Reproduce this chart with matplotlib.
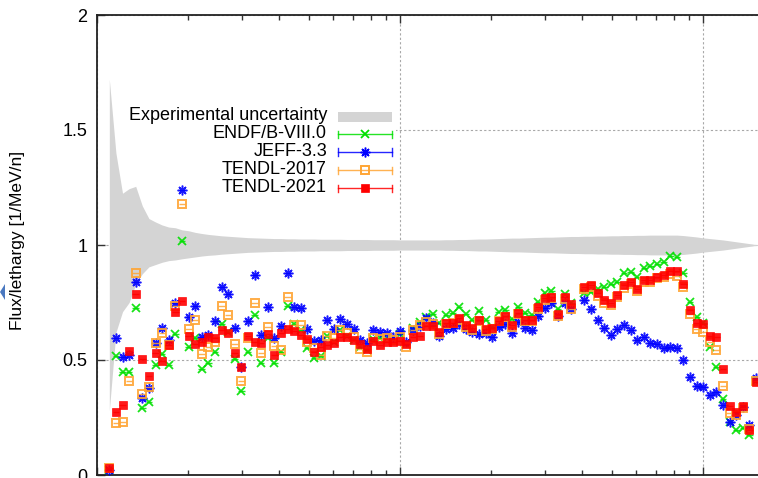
import numpy as np
import matplotlib
matplotlib.use("Agg")
import matplotlib.pyplot as plt
from matplotlib.lines import Line2D
from matplotlib.patches import Rectangle, Polygon

# energy group structure (equal lethargy), MeV
e_min, e_max, n_groups = 0.1071, 16.14, 100

# flux per lethargy for each library (nan = no point)
endf8 = [
    0.020, 0.517, 0.447, 0.447, 0.727, 0.293, 0.316, 0.478, 0.525, 0.478,
    0.613, 1.019, 0.558, 0.594, 0.461, 0.488, 0.533, 0.657, 0.623, 0.503,
    0.365, 0.536, 0.696, 0.488, 0.594, 0.486, 0.536, 0.735, 0.657, 0.630,
    0.551, 0.507, 0.517, 0.604, 0.580, 0.630, 0.605, 0.587, 0.555, 0.545,
    0.590, 0.595, 0.595, 0.595, 0.615, 0.570, 0.638, 0.667, 0.688, 0.700,
    0.660, 0.696, 0.703, 0.729, 0.700, 0.674, 0.714, 0.674, 0.643, 0.710,
    0.717, 0.677, 0.732, 0.706, 0.696, 0.753, 0.790, 0.801, 0.720, 0.785,
    0.750, np.nan, 0.790, 0.797, 0.810, 0.819, 0.830, 0.840, 0.877, 0.884,
    0.860, 0.899, 0.909, 0.917, 0.927, 0.952, 0.949, 0.877, 0.753, 0.686,
    0.660, 0.555, 0.471, 0.329, 0.232, 0.196, 0.203, 0.174, 0.410, 1.560,
]
jeff33 = [
    0.020, 0.597, 0.514, 0.522, 0.840, 0.336, 0.377, 0.575, 0.638, 0.587,
    0.747, 1.239, 0.688, 0.735, 0.600, 0.609, 0.670, 0.816, 0.786, 0.638,
    0.471, 0.670, 0.870, 0.609, 0.732, 0.594, 0.648, 0.880, 0.729, 0.725,
    0.635, 0.584, 0.587, 0.674, 0.635, 0.678, 0.657, 0.635, 0.587, 0.575,
    0.630, 0.623, 0.619, 0.599, 0.627, 0.580, 0.630, 0.648, 0.681, 0.660,
    0.604, 0.635, 0.640, 0.655, 0.635, 0.623, 0.615, 0.616, 0.601, 0.645,
    0.657, 0.616, 0.667, 0.638, 0.630, 0.691, 0.725, 0.749, 0.690, 0.750,
    0.720, np.nan, 0.761, 0.722, 0.674, 0.638, 0.609, 0.633, 0.652, 0.630,
    0.587, 0.601, 0.575, 0.570, 0.551, 0.555, 0.551, 0.500, 0.427, 0.388,
    0.384, 0.348, 0.362, 0.304, 0.232, 0.261, 0.297, 0.217, 0.420, 1.580,
]
tendl17 = [
    0.030, 0.225, 0.230, 0.409, 0.880, 0.352, 0.384, 0.573, 0.619, 0.565,
    0.735, 1.177, 0.633, 0.674, 0.525, 0.558, 0.580, 0.735, 0.696, 0.568,
    0.409, 0.594, 0.749, 0.532, 0.645, 0.561, 0.543, 0.775, 0.652, 0.652,
    0.580, 0.551, 0.522, 0.604, 0.594, 0.630, 0.616, 0.599, 0.548, 0.536,
    0.594, 0.590, 0.594, 0.587, 0.599, 0.558, 0.630, 0.652, 0.667, 0.655,
    0.615, 0.655, 0.660, 0.675, 0.645, 0.630, 0.668, 0.628, 0.635, 0.668,
    0.685, 0.645, 0.698, 0.668, 0.668, 0.720, 0.760, 0.768, 0.690, 0.765,
    0.720, np.nan, 0.810, 0.818, 0.780, 0.750, 0.740, 0.775, 0.815, 0.830,
    0.800, 0.840, 0.840, 0.855, 0.860, 0.875, 0.865, 0.816, 0.700, 0.633,
    0.623, 0.580, 0.543, 0.388, 0.271, 0.261, 0.290, 0.200, 0.410, 1.580,
]
tendl21 = [
    0.032, 0.275, 0.304, 0.539, 0.787, 0.506, 0.430, 0.532, 0.497, 0.565,
    0.710, 0.758, 0.604, 0.568, 0.580, 0.601, 0.594, 0.630, 0.616, 0.532,
    0.471, 0.604, 0.580, 0.575, 0.615, 0.522, 0.616, 0.635, 0.626, 0.609,
    0.590, 0.536, 0.558, 0.565, 0.573, 0.599, 0.599, 0.587, 0.570, 0.548,
    0.584, 0.565, 0.577, 0.580, 0.584, 0.570, 0.599, 0.604, 0.648, 0.648,
    0.623, 0.660, 0.662, 0.681, 0.652, 0.638, 0.674, 0.635, 0.640, 0.671,
    0.691, 0.652, 0.703, 0.674, 0.674, 0.729, 0.768, 0.775, 0.699, 0.775,
    0.742, np.nan, 0.819, 0.826, 0.790, 0.761, 0.747, 0.783, 0.826, 0.840,
    0.807, 0.848, 0.848, 0.862, 0.870, 0.888, 0.888, 0.830, 0.717, 0.662,
    0.657, 0.604, 0.599, 0.460, 0.301, 0.275, 0.301, 0.196, 0.406, 1.560,
]

# experimental uncertainty band (upper / lower edge)
band_hi = [
    1.720, 1.400, 1.225, 1.245, 1.255, 1.170, 1.115, 1.100, 1.087, 1.078,
    1.075, 1.066, 1.062, 1.055, 1.050, 1.046, 1.043, 1.040, 1.038, 1.036,
    1.034, 1.032, 1.031, 1.030, 1.029, 1.028, 1.028, 1.027, 1.027, 1.026,
    1.026, 1.026, 1.025, 1.025, 1.025, 1.025, 1.024, 1.024, 1.024, 1.024,
    1.023, 1.023, 1.023, 1.023, 1.022, 1.022, 1.022, 1.022, 1.022, 1.022,
    1.022, 1.023, 1.023, 1.024, 1.024, 1.025, 1.026, 1.026, 1.027, 1.028,
    1.029, 1.030, 1.030, 1.031, 1.032, 1.033, 1.034, 1.034, 1.035, 1.036,
    1.037, 1.037, 1.038, 1.038, 1.039, 1.039, 1.040, 1.040, 1.041, 1.041,
    1.042, 1.042, 1.043, 1.043, 1.043, 1.043, 1.043, 1.041, 1.038, 1.035,
    1.031, 1.028, 1.025, 1.022, 1.018, 1.014, 1.010, 1.006, 1.002, 1.000,
]
band_lo = [
    0.280, 0.620, 0.710, 0.750, 0.830, 0.875, 0.905, 0.915, 0.925, 0.932,
    0.935, 0.940, 0.944, 0.948, 0.952, 0.955, 0.957, 0.960, 0.962, 0.964,
    0.966, 0.968, 0.969, 0.970, 0.971, 0.972, 0.972, 0.973, 0.973, 0.974,
    0.974, 0.974, 0.975, 0.975, 0.975, 0.975, 0.976, 0.976, 0.976, 0.976,
    0.977, 0.977, 0.977, 0.977, 0.978, 0.978, 0.978, 0.978, 0.978, 0.978,
    0.978, 0.977, 0.977, 0.976, 0.976, 0.975, 0.974, 0.974, 0.973, 0.972,
    0.971, 0.970, 0.970, 0.969, 0.968, 0.967, 0.966, 0.966, 0.965, 0.964,
    0.963, 0.963, 0.962, 0.962, 0.961, 0.961, 0.960, 0.960, 0.959, 0.959,
    0.958, 0.958, 0.957, 0.957, 0.957, 0.957, 0.957, 0.959, 0.962, 0.965,
    0.969, 0.972, 0.975, 0.978, 0.982, 0.986, 0.990, 0.994, 0.998, 1.000,
]

labels = ["ENDF/B-VIII.0", "JEFF-3.3", "TENDL-2017", "TENDL-2021"]

W, H = 758, 478
plt.rcParams["font.family"] = ["Liberation Sans", "DejaVu Sans"]

edges = np.geomspace(e_min, e_max, n_groups + 1)
centers = np.sqrt(edges[:-1] * edges[1:])
xerr = [centers - edges[:-1], edges[1:] - centers]

fig = plt.figure(figsize=(W / 100, H / 100), dpi=100)
# axes runs past the right border of the (cropped) picture
ax = fig.add_axes([97 / W, 3 / H, 697.2 / W, 460 / H])
ax.set_xscale("log")
ax.set_xlim(0.1, 20)
ax.set_ylim(0, 2)

ax.set_axisbelow(True)
ax.grid(True, which="major", color="#a8a8a8", linestyle=(0, (2, 2)), linewidth=0.8)
# opaque key box hides the grid behind it
ax.add_patch(Rectangle((98 / W, 1 - 200 / H), 298 / W, 100 / H,
                       transform=fig.transFigure, facecolor="white",
                       edgecolor="none", zorder=0.7))

band_col = "#d4d4d4"
ax.fill_between(centers, band_lo, band_hi, color=band_col, linewidth=0, zorder=1)

styles = [
    dict(color="#00e000", marker="x", ms=6, mew=1.3, mfc="none"),
    dict(color="#0000ff", marker=(8, 2, 0), ms=7, mew=1.1, mfc="none"),
    dict(color="#ffa534", marker="s", ms=6, mew=1.4, mfc="none"),
    dict(color="#ff0000", marker="s", ms=6, mew=0.5, mfc="#ff0000"),
]
series = [endf8, jeff33, tendl17, tendl21]
for k, (vals, st) in enumerate(zip(series, styles)):
    ax.errorbar(centers, vals, xerr=xerr, fmt="none", ecolor=st["color"],
                elinewidth=1.0, capsize=0, alpha=0.85, zorder=2 + k)
    ax.plot(centers, vals, linestyle="none", marker=st["marker"], ms=st["ms"],
            mew=st["mew"], mec=st["color"], mfc=st["mfc"], alpha=0.9, zorder=2 + k)

ax.set_yticks([0, 0.5, 1, 1.5, 2])
ax.set_yticklabels(["0", "0.5", "1", "1.5", "2"])
ax.tick_params(which="both", direction="in", top=True, right=True,
               labelbottom=False, labelsize=13, width=1.0, color="#333333")
ax.tick_params(which="major", length=6, pad=7)
ax.tick_params(which="minor", length=3.5)
for sp in ax.spines.values():
    sp.set_linewidth(1.3)
    sp.set_color("#222222")

fig.text(18 / W, 1 - 240 / H, "Flux/lethargy [1/MeV/n]", rotation=90,
         ha="center", va="center", fontsize=12.5)

# key, right-aligned text with samples on the right (gnuplot style)
rows = [116, 134, 152, 170, 188]
fig.text(327 / W, 1 - rows[0] / H, "Experimental uncertainty", ha="right",
         va="center", fontsize=13)
fig.add_artist(Rectangle((338 / W, 1 - 122 / H), 54 / W, 10 / H,
                         transform=fig.transFigure, facecolor=band_col,
                         edgecolor="none"))
for lab, st, ry in zip(labels, styles, rows[1:]):
    fy = 1 - ry / H
    fig.text(327 / W, fy, lab, ha="right", va="center", fontsize=13)
    fig.add_artist(Line2D([338 / W, 392 / W], [fy, fy], transform=fig.transFigure,
                          color=st["color"], lw=1.0, alpha=0.85))
    for cx in (338, 392):
        fig.add_artist(Line2D([cx / W, cx / W], [fy - 3.5 / H, fy + 3.5 / H],
                              transform=fig.transFigure, color=st["color"],
                              lw=1.0, alpha=0.85))
    fig.add_artist(Line2D([365 / W], [fy], transform=fig.transFigure,
                          linestyle="none", marker=st["marker"], ms=st["ms"],
                          mew=st["mew"], mec=st["color"], mfc=st["mfc"]))

# bit of a neighbouring widget at the left border
fig.add_artist(Polygon([(0, 1 - 292 / H), (5 / W, 1 - 284 / H), (5 / W, 1 - 300 / H)],
                       closed=True, transform=fig.transFigure,
                       facecolor="#4a78c0", edgecolor="none"))

fig.savefig("out.png", dpi=100)
